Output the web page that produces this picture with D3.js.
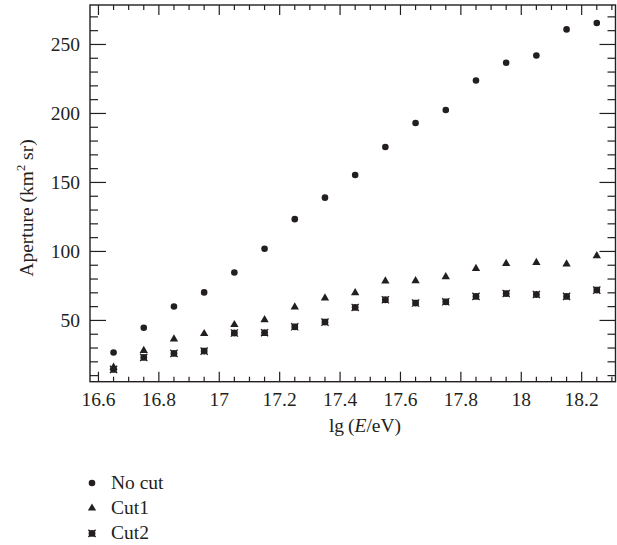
<!DOCTYPE html>
<html>
<head>
<meta charset="utf-8">
<script src="https://cdn.jsdelivr.net/npm/d3@7"></script>
<style>
  html, body { margin: 0; padding: 0; background: #fff; }
  svg { display: block; }
</style>
</head>
<body>
<svg id="chart" width="617" height="545" font-family="'Liberation Serif', 'Times New Roman', 'DejaVu Serif', serif"></svg>
<script>
// Energy bins, lg(E/eV)
const energy = [16.65, 16.75, 16.85, 16.95, 17.05, 17.15, 17.25, 17.35, 17.45,
                17.55, 17.65, 17.75, 17.85, 17.95, 18.05, 18.15, 18.25];

// Aperture (km^2 sr) for each selection
const noCut = [26.8, 44.7, 60.1, 70.3, 84.7, 102, 123.4, 139, 155.4,
               175.7, 193.1, 202.5, 223.9, 236.7, 242, 260.9, 265.6];
const cut1  = [16, 28.1, 36.5, 40.4, 46.9, 50.5, 59.7, 66.2, 70,
               78.5, 78.7, 81.6, 87.6, 91.2, 92, 90.8, 96.8];
const cut2  = [14.5, 23.2, 26.1, 27.8, 40.9, 41.1, 45.4, 48.8, 59.4,
               65, 62.6, 63.5, 67.4, 69.5, 68.8, 67.4, 72];

const seriesNames = ["No cut", "Cut1", "Cut2"];

const xTicks = [16.6, 16.8, 17, 17.2, 17.4, 17.6, 17.8, 18, 18.2];
const yTicks = [50, 100, 150, 200, 250];

const svg = d3.select("#chart");
const ink = "#231f20";
const fontSize = 19.5;
const plot = { left: 90, right: 615.5, top: 5, bottom: 381.7 };

const x = d3.scaleLinear().domain([16.572, 18.312]).range([plot.left, plot.right]);
const y = d3.scaleLinear().domain([5.6, 278.6]).range([plot.bottom, plot.top]);

// minor tick values
const xMinor = d3.range(16.6, 18.31, 0.05).map(v => +v.toFixed(2))
  .filter(v => !xTicks.some(t => Math.abs(t - v) < 1e-6));
const yMinor = d3.range(10, 279, 10).filter(v => v % 50 !== 0);

const g = svg.append("g");

// ticks on all four sides, drawn inward
function ticks(vals, len, side) {
  vals.forEach(v => {
    let x1, y1, x2, y2;
    if (side === "bottom") { x1 = x2 = x(v); y1 = plot.bottom; y2 = plot.bottom - len; }
    if (side === "top")    { x1 = x2 = x(v); y1 = plot.top; y2 = plot.top + len; }
    if (side === "left")   { y1 = y2 = y(v); x1 = plot.left; x2 = plot.left + len; }
    if (side === "right")  { y1 = y2 = y(v); x1 = plot.right; x2 = plot.right - len; }
    g.append("line").attr("x1", x1).attr("y1", y1).attr("x2", x2).attr("y2", y2)
      .attr("stroke", ink).attr("stroke-width", 1.2);
  });
}
ticks(xTicks, 10, "bottom"); ticks(xMinor, 5, "bottom");
ticks(xTicks, 10, "top");    ticks(xMinor, 5, "top");
ticks(yTicks, 16, "left");   ticks(yMinor, 8, "left");
ticks(yTicks, 16, "right");  ticks(yMinor, 8, "right");

// frame
g.append("rect")
  .attr("x", plot.left).attr("y", plot.top)
  .attr("width", plot.right - plot.left).attr("height", plot.bottom - plot.top)
  .attr("fill", "none").attr("stroke", ink).attr("stroke-width", 1.4);

// tick labels
const fmt = d => String(+d.toFixed(1));
g.selectAll(".xl").data(xTicks).join("text")
  .attr("x", d => x(d)).attr("y", 406)
  .attr("text-anchor", "middle").attr("font-size", fontSize).attr("fill", ink)
  .text(fmt);
g.selectAll(".yl").data(yTicks).join("text")
  .attr("x", 80).attr("y", d => y(d) + 6.5)
  .attr("text-anchor", "end").attr("font-size", fontSize).attr("fill", ink)
  .text(d => d);

// axis titles
const xt = svg.append("text").attr("x", 365).attr("y", 432)
  .attr("text-anchor", "middle").attr("font-size", fontSize).attr("fill", ink);
xt.append("tspan").text("lg\u2009(");
xt.append("tspan").attr("font-style", "italic").text("E");
xt.append("tspan").text("/eV)");

const yt = svg.append("text")
  .attr("transform", "translate(33,208) rotate(-90)")
  .attr("text-anchor", "middle").attr("font-size", fontSize).attr("fill", ink);
yt.append("tspan").text("Aperture (km");
yt.append("tspan").attr("font-size", 12.5).attr("dy", -8).text("2");
yt.append("tspan").attr("dy", 8).text(" sr)");

// marker shapes
const star = "M-2.6,-2.6H2.6V2.6H-2.6Z M-3.6,-3.6L3.6,3.6 M3.6,-3.6L-3.6,3.6 M0,-3.4V3.4 M-3.4,0H3.4";
function marker(sel, kind) {
  if (kind === 0) sel.append("circle").attr("r", 3.3).attr("fill", ink);
  if (kind === 1) sel.append("path").attr("d", d3.symbol(d3.symbolTriangle, 30)()).attr("fill", ink);
  if (kind === 2) sel.append("path").attr("d", star).attr("fill", ink)
      .attr("stroke", ink).attr("stroke-width", 1.3);
}

const series = [noCut, cut1, cut2];
series.forEach((vals, k) => {
  vals.forEach((v, i) => {
    const m = svg.append("g").attr("transform", `translate(${x(energy[i])},${y(v)})`);
    marker(m, k);
  });
});

// legend
seriesNames.forEach((name, k) => {
  const cy = 483 + k * 25.2;
  marker(svg.append("g").attr("transform", `translate(92,${cy})`), k);
  svg.append("text").attr("x", 111).attr("y", cy + 5.8)
    .attr("font-size", fontSize).attr("fill", ink).text(name);
});
</script>
</body>
</html>
